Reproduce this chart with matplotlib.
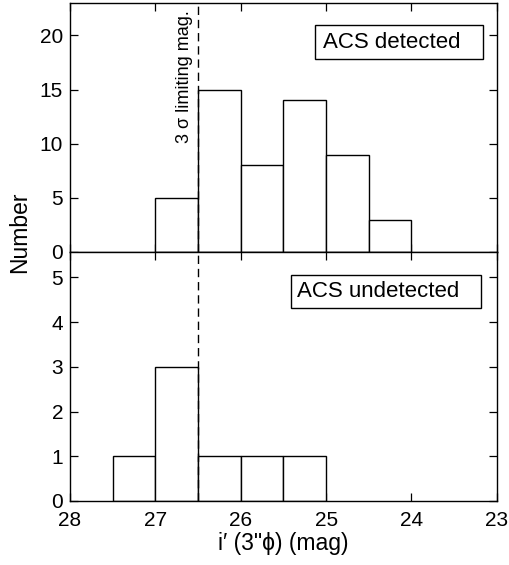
import matplotlib
matplotlib.use("Agg")
import matplotlib.pyplot as plt
from matplotlib.patches import Rectangle

plt.rcParams['font.family'] = ['Liberation Sans', 'DejaVu Sans']

# Data
det_left = [27.0, 26.5, 26.0, 25.5, 25.0, 24.5]
det_counts = [5, 15, 8, 14, 9, 3]
undet_left = [27.5, 27.0, 26.5, 26.0, 25.5]
undet_counts = [1, 3, 1, 1, 1]
bin_width = -0.5
limit_mag = 26.5
xticks = [28, 27, 26, 25, 24, 23]
top_yticks = [0, 5, 10, 15, 20]
bot_yticks = [0, 1, 2, 3, 4, 5]

fig = plt.figure(figsize=(5.09, 5.65), dpi=100)
ax1 = fig.add_axes([0.1375, 0.554, 0.8385, 0.4407])
ax2 = fig.add_axes([0.1375, 0.1133, 0.8385, 0.4407])

for ax, left, counts in [(ax1, det_left, det_counts), (ax2, undet_left, undet_counts)]:
    ax.bar(left, counts, width=bin_width, align='edge', facecolor='white',
           edgecolor='black', linewidth=1.0, zorder=2)
    ax.axvline(limit_mag, color='black', linestyle=(0, (6, 3.5)), linewidth=1.0, zorder=3)
    ax.set_xlim(28, 23)
    ax.set_xticks(xticks)
    ax.tick_params(direction='in', length=5.5, width=0.9, top=True, right=True,
                   labelsize=15, colors='black')
    ax.tick_params(axis='x', pad=7)
    ax.tick_params(axis='y', pad=5)
    for s in ax.spines.values():
        s.set_linewidth(1.0)
        s.set_color('black')

ax1.set_ylim(0, 23)
ax1.set_yticks(top_yticks)
ax1.tick_params(labelbottom=False)
ax2.set_ylim(0, 5.57)
ax2.set_yticks(bot_yticks)

ax1.text(26.66, 10.1, "3 σ limiting mag.", rotation=90, ha='center', va='bottom',
         fontsize=13)

ax1.add_patch(Rectangle((0.574, 0.775), 0.393, 0.137, transform=ax1.transAxes,
                        facecolor='white', edgecolor='black', linewidth=1.0, zorder=4))
ax1.text(0.593, 0.843, "ACS detected", transform=ax1.transAxes, fontsize=16,
         ha='left', va='center', zorder=5)
ax2.add_patch(Rectangle((0.517, 0.775), 0.447, 0.133, transform=ax2.transAxes,
                        facecolor='white', edgecolor='black', linewidth=1.0, zorder=4))
ax2.text(0.533, 0.841, "ACS undetected", transform=ax2.transAxes, fontsize=16,
         ha='left', va='center', zorder=5)

fig.text(0.557, 0.0265, "i\u2032 (3\"\u03d5) (mag)", fontsize=16.5, ha='center', va='baseline')
fig.text(0.039, 0.589, "Number", rotation=90, ha='center', va='center', fontsize=16.5)

fig.savefig("out.png", dpi=100)
